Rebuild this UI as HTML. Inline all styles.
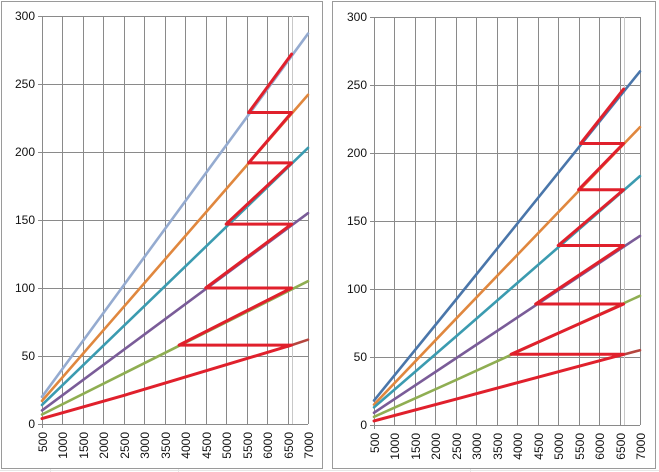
<!DOCTYPE html>
<html><head><style>
html,body{margin:0;padding:0;background:#fff;}
svg{display:block;font-family:"Liberation Sans",sans-serif;}
</style></head><body>
<svg width="659" height="472" viewBox="0 0 659 472" xmlns="http://www.w3.org/2000/svg">
<g stroke="#e6e6e6" stroke-width="1">
<line x1="0" y1="470.5" x2="659" y2="470.5"/>
<line x1="50.5" y1="468" x2="50.5" y2="472"/><line x1="178.5" y1="468" x2="178.5" y2="472"/><line x1="470.5" y1="468" x2="470.5" y2="472"/>
</g>
<rect x="1.5" y="1.5" width="321" height="467" fill="#fff" stroke="#9a9a9a"/>
<rect x="332.5" y="1.5" width="323" height="467" fill="#fff" stroke="#9a9a9a"/>

<!-- LEFT CHART -->
<g id="L">
<g stroke="#8a8a8a" stroke-width="1" fill="none">
<path d="M42.5 16.5H308 M42.5 84.5H308 M42.5 152.5H308 M42.5 220.5H308 M42.5 288.5H308 M42.5 356.5H308"/>
<path d="M62.5 16V424 M83.5 16V424 M103.5 16V424 M124.5 16V424 M144.5 16V424 M165.5 16V424 M185.5 16V424 M206.5 16V424 M226.5 16V424 M247.5 16V424 M267.5 16V424 M288.5 16V424 M308.5 16V424"/>
<path stroke="#c8c8c8" d="M292.5 16V424"/>
<path d="M42.5 16V428 M38 424.5H308 M38 16.5H42 M38 84.5H42 M38 152.5H42 M38 220.5H42 M38 288.5H42 M38 356.5H42"/>
</g>
<g transform="translate(42,424) scale(0.04092,-1.36)" fill="none" stroke-linecap="round" stroke-linejoin="round">
<path vector-effect="non-scaling-stroke" stroke="#95abd0" stroke-width="2.6" d="M0 20 L6500 287"/>
<path vector-effect="non-scaling-stroke" stroke="#e0873e" stroke-width="2.6" d="M0 17 L6500 242"/>
<path vector-effect="non-scaling-stroke" stroke="#3b9bb0" stroke-width="2.6" d="M0 14 L6500 203"/>
<path vector-effect="non-scaling-stroke" stroke="#7a5c98" stroke-width="2.6" d="M0 10 L6500 155"/>
<path vector-effect="non-scaling-stroke" stroke="#8fae52" stroke-width="2.6" d="M0 7 L6500 105"/>
<path vector-effect="non-scaling-stroke" stroke="#b5463f" stroke-width="2.6" d="M6000 57 L6500 62"/>
<path vector-effect="non-scaling-stroke" stroke="#e0202c" stroke-width="3" d="M0 4 L2000 21 L6100 58 L3350 58 L6100 100 L4000 100 L6100 147 L4500 147 L6100 192 L5050 192 L6100 229 L5050 229 L6100 272"/>
</g>
<g font-size="12" fill="#111" text-anchor="end">
<text x="35" y="20">300</text><text x="35" y="88">250</text><text x="35" y="156">200</text><text x="35" y="224">150</text><text x="35" y="292">100</text><text x="35" y="360">50</text><text x="35" y="428">0</text>
</g>
<g font-size="12" fill="#111" text-anchor="end">
<text transform="translate(47,432) rotate(-90)">500</text>
<text transform="translate(67,432) rotate(-90)">1000</text>
<text transform="translate(88,432) rotate(-90)">1500</text>
<text transform="translate(108,432) rotate(-90)">2000</text>
<text transform="translate(129,432) rotate(-90)">2500</text>
<text transform="translate(149,432) rotate(-90)">3000</text>
<text transform="translate(170,432) rotate(-90)">3500</text>
<text transform="translate(190,432) rotate(-90)">4000</text>
<text transform="translate(211,432) rotate(-90)">4500</text>
<text transform="translate(231,432) rotate(-90)">5000</text>
<text transform="translate(252,432) rotate(-90)">5500</text>
<text transform="translate(272,432) rotate(-90)">6000</text>
<text transform="translate(293,432) rotate(-90)">6500</text>
<text transform="translate(313,432) rotate(-90)">7000</text>
</g>
</g>

<!-- RIGHT CHART -->
<g transform="translate(332,1)">
<g stroke="#8a8a8a" stroke-width="1" fill="none">
<path d="M42.5 16.5H308 M42.5 84.5H308 M42.5 152.5H308 M42.5 220.5H308 M42.5 288.5H308 M42.5 356.5H308"/>
<path d="M62.5 16V424 M83.5 16V424 M103.5 16V424 M124.5 16V424 M144.5 16V424 M165.5 16V424 M185.5 16V424 M206.5 16V424 M226.5 16V424 M247.5 16V424 M267.5 16V424 M288.5 16V424 M308.5 16V424"/>
<path stroke="#c8c8c8" d="M292.5 16V424"/>
<path d="M42.5 16V428 M38 424.5H308 M38 16.5H42 M38 84.5H42 M38 152.5H42 M38 220.5H42 M38 288.5H42 M38 356.5H42"/>
</g>
<g transform="translate(42,424) scale(0.04092,-1.36)" fill="none" stroke-linecap="round" stroke-linejoin="round">
<path vector-effect="non-scaling-stroke" stroke="#4a76aa" stroke-width="2.6" d="M0 18 L2000 92 L6500 260"/>
<path vector-effect="non-scaling-stroke" stroke="#e0873e" stroke-width="2.6" d="M0 15 L2000 78 L6500 219"/>
<path vector-effect="non-scaling-stroke" stroke="#3b9bb0" stroke-width="2.6" d="M0 13 L2000 65 L6500 183"/>
<path vector-effect="non-scaling-stroke" stroke="#7a5c98" stroke-width="2.6" d="M0 9 L2000 49 L6500 139"/>
<path vector-effect="non-scaling-stroke" stroke="#8fae52" stroke-width="2.6" d="M0 6 L2000 33 L6500 95"/>
<path vector-effect="non-scaling-stroke" stroke="#b5463f" stroke-width="2.6" d="M6000 51 L6500 55"/>
<path vector-effect="non-scaling-stroke" stroke="#e0202c" stroke-width="3" d="M0 3 L2000 19 L6100 52 L3350 52 L6100 89 L3950 89 L6100 132 L4500 132 L6100 173 L5000 173 L6100 207 L5050 207 L6100 247"/>
</g>
<g font-size="12" fill="#111" text-anchor="end">
<text x="35" y="20">300</text><text x="35" y="88">250</text><text x="35" y="156">200</text><text x="35" y="224">150</text><text x="35" y="292">100</text><text x="35" y="360">50</text><text x="35" y="428">0</text>
</g>
<g font-size="12" fill="#111" text-anchor="end">
<text transform="translate(47,432) rotate(-90)">500</text>
<text transform="translate(67,432) rotate(-90)">1000</text>
<text transform="translate(88,432) rotate(-90)">1500</text>
<text transform="translate(108,432) rotate(-90)">2000</text>
<text transform="translate(129,432) rotate(-90)">2500</text>
<text transform="translate(149,432) rotate(-90)">3000</text>
<text transform="translate(170,432) rotate(-90)">3500</text>
<text transform="translate(190,432) rotate(-90)">4000</text>
<text transform="translate(211,432) rotate(-90)">4500</text>
<text transform="translate(231,432) rotate(-90)">5000</text>
<text transform="translate(252,432) rotate(-90)">5500</text>
<text transform="translate(272,432) rotate(-90)">6000</text>
<text transform="translate(293,432) rotate(-90)">6500</text>
<text transform="translate(313,432) rotate(-90)">7000</text>
</g>
</g>
</svg>
</body></html>
